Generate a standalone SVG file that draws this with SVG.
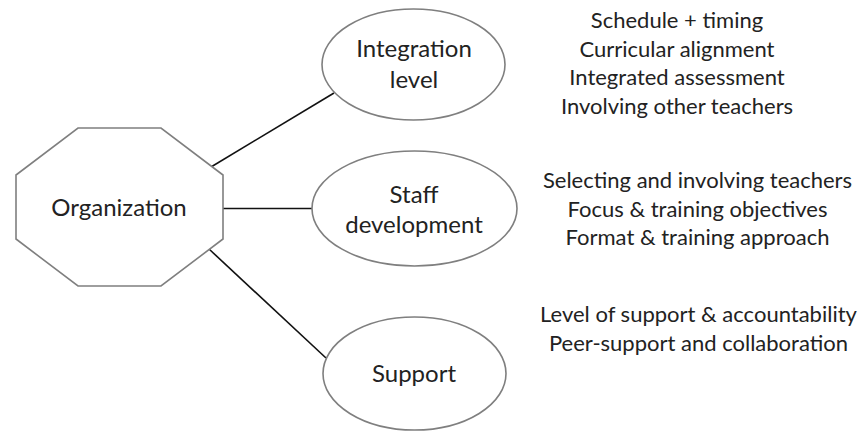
<svg xmlns="http://www.w3.org/2000/svg" width="865" height="432" viewBox="0 0 865 432">
<style>
.shape{fill:#fff;stroke:#7f7f7f;stroke-width:1.6}
.conn{stroke:#111;stroke-width:1.6;fill:none}
.lbl{font-family:Lato,"Liberation Sans",sans-serif;font-size:24px;fill:#222;text-anchor:middle}
.item{font-family:Lato,"Liberation Sans",sans-serif;font-size:22px;fill:#222;text-anchor:middle}
</style>
<rect width="865" height="432" fill="#fff"/>
<g id="connectors">
<line class="conn" x1="211" y1="167" x2="334" y2="93"/>
<line class="conn" x1="223" y1="208.5" x2="312" y2="208.5"/>
<line class="conn" x1="209" y1="249" x2="326" y2="358"/>
</g>
<g id="organization">
<polygon class="shape" points="78,128 161,128 223,175 223,239 161,286 78,286 16,239 16,175"/>
<text class="lbl" x="119" y="216">Organization</text>
</g>
<g id="integration">
<ellipse class="shape" cx="413.5" cy="64.5" rx="91.5" ry="55.5"/>
<text class="lbl" x="414" y="57">Integration</text>
<text class="lbl" x="414" y="88">level</text>
</g>
<g id="staff">
<ellipse class="shape" cx="414.5" cy="208.5" rx="102.5" ry="57.5"/>
<text class="lbl" x="414" y="203">Staff</text>
<text class="lbl" x="414" y="233">development</text>
</g>
<g id="support">
<ellipse class="shape" cx="414.5" cy="373.5" rx="91.5" ry="56.5"/>
<text class="lbl" x="414" y="382">Support</text>
</g>
<g id="integration-items">
<text class="item" x="677" y="28">Schedule + timing</text>
<text class="item" x="677" y="56.5">Curricular alignment</text>
<text class="item" x="677" y="85">Integrated assessment</text>
<text class="item" x="677" y="113.5">Involving other teachers</text>
</g>
<g id="staff-items">
<text class="item" x="697.5" y="188">Selecting and involving teachers</text>
<text class="item" x="697.5" y="216.5">Focus &amp; training objectives</text>
<text class="item" x="697.5" y="245">Format &amp; training approach</text>
</g>
<g id="support-items">
<text class="item" x="698.5" y="322">Level of support &amp; accountability</text>
<text class="item" x="698.5" y="350.5">Peer-support and collaboration</text>
</g>
</svg>
